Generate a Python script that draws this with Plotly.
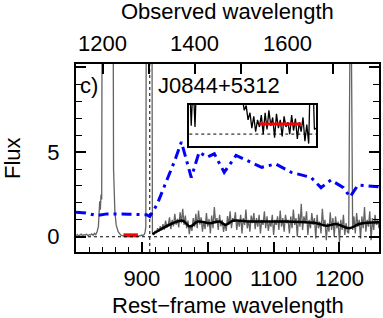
import plotly.graph_objects as go

# ---------------- data ----------------
REDSHIFT = 0.428
rest_range = [800, 1260]

# gray observed spectrum: low-resolution part (rest-frame Angstrom, flux)
spec_left_wave = [800, 802, 804, 806, 808, 810, 812, 814, 816, 818, 820, 822, 824, 826, 828, 830,
                  832, 834, 835, 836, 837, 838, 839, 840, 856, 857, 859, 861, 864, 866, 868, 870,
                  872, 874, 876, 878, 880, 882, 884, 886, 888, 890, 892, 894, 896, 898, 900, 902,
                  904, 905, 906, 907, 915]
spec_left_flux = [0.08, 0.13, 0.05, 0.11, 0.15, 0.06, 0.12, 0.09, 0.16, 0.07, 0.12, 0.10, 0.17, 0.08, 0.20, 0.12,
                  0.30, 0.60, 1.30, 2.10, 1.60, 2.50, 2.20, 20.0, 20.0, 4.0, 1.5, 0.7, 0.30, 0.18, 0.10, 0.07,
                  0.05, 0.09, 0.04, 0.08, 0.03, 0.07, 0.05, 0.09, 0.04, 0.06, 0.08, 0.03, 0.07, 0.05, 0.10, 0.08,
                  0.15, 0.30, 0.60, 20.0, 20.0]

# gray spectrum: noisy part, sampled every 2 A from 916 A
noisy_start = 916
noisy_step = 2
noisy_flux = [
    0.25, 0.10, 0.35, 0.22, 0.50, 0.30, 0.62, 0.38, 0.75, 0.42, 0.95, 0.55, 0.70, 1.15, 0.45, 1.00, 0.62, 1.35, 0.72, 1.05, 0.55, 1.45,
    0.80, 1.65, 0.70, 1.25, 0.50, 0.95, 0.15, 0.70, 0.35, 1.10, 0.60, 1.35, 0.50, 1.55, 0.72, 1.15, 0.30, 0.92, 0.45, 1.40, 0.60,
    1.05, 0.20, 1.25, 0.50, 1.75, 0.80, 1.10, 0.40, 1.30, 0.62, 1.00, 0.28, 0.80, 0.35, 1.22, 0.70, 1.50, 0.50, 1.10, 0.90,
    1.45, 0.40, 1.00, 0.60, 1.30, 0.20, 1.10, 0.70, 1.60, 0.50, 1.00, 0.30, 1.25, 0.80, 1.40, 0.45, 1.10, 0.60, 1.30, 0.20,
    1.00, 0.70, 1.50, 0.50, 1.20, 0.35, 0.90, 0.60, 1.30, 0.10, 1.00, 0.70, 1.20, 0.40, 1.55, 0.60, 1.10, 0.30, 1.30, 0.80,
    1.00, 0.20, 1.20, 0.50, 1.60, 0.70, 1.10, 0.00, 1.35, 0.60, 1.95, 0.40, 1.20, 0.80, 1.50, 0.10, 1.00, 0.50, 1.40, 0.70,
    1.10, -0.10, 1.30, 0.50, 0.90, 0.20, 1.65, 0.60, 1.00, -0.20, 0.80, 0.30, 1.45, 0.40, 1.10, 0.00, 1.20, 0.50, 0.90, -0.30,
    1.00, 0.40, 1.30, 0.10, 0.80, 0.30,
    0.20, 12.0, 12.0, 0.40,
    1.20, 0.20, 1.40, 0.60, 1.00, -0.10, 1.20, 0.50, 1.75, 0.30, 1.00, 0.60, 1.50, -0.20, 1.10, 0.40, 1.30, 0.70, 1.00, 0.50,
]

# black smooth continuum fit
cont_wave = [916, 927, 947, 962, 973, 985, 1003, 1018, 1027, 1038, 1064, 1079, 1114, 1165, 1180, 1195, 1215, 1230, 1260]
cont_flux = [0.15, 0.40, 0.80, 0.95, 0.60, 0.90, 0.80, 0.90, 0.70, 0.95, 0.90, 0.90, 0.90, 0.80, 0.65, 0.75, 0.50, 0.75, 0.85]

# blue dash-dot template
blue_wave = [800, 815, 832, 847, 880, 907, 912, 923, 938, 950, 960, 975, 987, 999, 1010, 1025, 1043, 1066,
             1082, 1103, 1127, 1157, 1172, 1187, 1206, 1216, 1228, 1260]
blue_flux = [1.45, 1.40, 1.25, 1.35, 1.33, 1.30, 1.20, 1.90, 3.35, 4.50, 5.60, 3.50, 5.00, 4.70, 4.90, 3.80, 4.80, 4.40,
             4.10, 4.30, 3.80, 3.50, 2.90, 3.35, 2.90, 2.35, 3.05, 2.95]

# red segment (mean flux below Lyman limit)
red_wave = [872, 894]
red_flux = [0.084, 0.084]

# inset spectrum
inset_wave = [835, 836, 837, 838, 839, 840, 862, 863, 864, 865, 866, 867, 868, 869, 870, 871, 872, 873, 874, 875,
              876, 877, 878, 879, 880, 881, 882, 883, 884, 885, 886, 887, 888, 889, 890, 891, 892, 893, 894,
              895, 896, 897, 898, 899, 900, 901, 902]
inset_flux = [0.50, 0.07, 0.45, 0.06, 0.60, 1.00, 1.00, 0.30, 0.20, 0.24, 0.12, 0.18, 0.05, 0.15, 0.02, 0.12, 0.06, 0.16, 0.00, 0.18,
              0.04, 0.20, 0.07, 0.14, -0.03, 0.17, 0.05, 0.12, -0.02, 0.15, 0.06, 0.10, 0.00, 0.16, 0.03, 0.13, -0.04, 0.10, 0.02,
              0.14, -0.06, 0.08, -0.08, 0.60, 0.60, 0.04, 0.05]
inset_xrange = [835, 902]
inset_yrange = [-0.10, 0.245]

lyman_limit = 912
obs_ticks = [1200, 1300, 1400, 1500, 1600, 1700]
obs_ticktext = ['1200', '', '1400', '', '1600', '']
rest_ticks = [900, 1000, 1100, 1200]
flux_ticks = [0, 5, 10]
flux_ticktext = ['0', '5', '']

# ---------------- figure ----------------
FONT = 'Liberation Sans'
FS = 22
noisy_wave = [noisy_start + i * noisy_step for i in range(len(noisy_flux))]
spec_wave = spec_left_wave + noisy_wave
spec_flux = spec_left_flux + noisy_flux

fig = go.Figure()
fig.add_trace(go.Scatter(x=spec_wave, y=spec_flux, mode='lines',
                         line=dict(color='#636363', width=1.3), hoverinfo='skip'))
fig.add_trace(go.Scatter(x=cont_wave, y=cont_flux, mode='lines', line_shape='spline',
                         line=dict(color='black', width=2.5)))
fig.add_trace(go.Scatter(x=blue_wave, y=blue_flux, mode='lines',
                         line=dict(color='#0000ff', width=3, dash='10px,5px,3px,5px')))
fig.add_trace(go.Scatter(x=red_wave, y=red_flux, mode='lines', line=dict(color='#ff0000', width=4)))
fig.add_trace(go.Scatter(x=[rest_range[0] * (1 + REDSHIFT)], y=[0], xaxis='x2', yaxis='y',
                         mode='markers', marker=dict(opacity=0), hoverinfo='skip'))
fig.add_trace(go.Scatter(x=inset_wave, y=inset_flux, xaxis='x3', yaxis='y3', mode='lines',
                         line=dict(color='black', width=1.3)))
fig.add_trace(go.Scatter(x=red_wave, y=red_flux, xaxis='x3', yaxis='y3', mode='lines',
                         line=dict(color='#ff0000', width=3)))

tickfont = dict(family=FONT, size=FS, color='black')

annotations = [
    dict(text='Observed wavelength', xref='paper', yref='paper', x=0.5, y=1, yshift=53,
         showarrow=False, font=tickfont, yanchor='middle'),
    dict(text='Rest\u2212frame wavelength', xref='paper', yref='paper', x=0.5, y=0, yshift=-53,
         showarrow=False, font=tickfont, yanchor='middle'),
    dict(text='Flux', xref='paper', yref='paper', x=0, xshift=-64, y=0.5, textangle=-90,
         showarrow=False, font=tickfont, xanchor='center'),
    dict(text='c)', xref='paper', yref='paper', x=0, xshift=2, y=1, yshift=-21,
         xanchor='left', yanchor='middle', showarrow=False, font=tickfont),
    dict(text='J0844+5312', xref='paper', yref='paper', x=(157 - 76) / 305, y=1, yshift=-21,
         xanchor='left', yanchor='middle', showarrow=False, font=tickfont),
]
for v, t in zip(obs_ticks, obs_ticktext):
    if t:
        annotations.append(dict(text=t, xref='x2', yref='paper', x=v, y=1, yshift=21,
                                xanchor='center', yanchor='middle', showarrow=False, font=tickfont))

fig.update_layout(
    width=383, height=318,
    margin=dict(l=76, r=2, t=64, b=66),
    paper_bgcolor='white', plot_bgcolor='white',
    showlegend=False,
    xaxis=dict(domain=[0, 1], anchor='y', range=rest_range, showgrid=False, zeroline=False,
               showline=True, linecolor='black', linewidth=2, mirror=True,
               ticks='inside', tickvals=rest_ticks, ticklen=10, tickwidth=1.5, tickcolor='black',
               minor=dict(ticks='inside', tick0=800, dtick=20, ticklen=5, tickwidth=1.2, tickcolor='black'),
               tickfont=tickfont, ticklabelstandoff=6),
    xaxis2=dict(overlaying='x', side='top', anchor='y',
                range=[rest_range[0] * (1 + REDSHIFT), rest_range[1] * (1 + REDSHIFT)],
                showgrid=False, zeroline=False, showline=False, showticklabels=False,
                ticks='inside', tickvals=obs_ticks, ticklen=10,
                tickwidth=1.5, tickcolor='black'),
    yaxis=dict(domain=[0, 1], anchor='x', range=[-0.9, 10.2], showgrid=False, zeroline=False,
               showline=True, linecolor='black', linewidth=2, mirror='ticks',
               ticks='inside', tickvals=flux_ticks, ticktext=flux_ticktext, ticklen=10, tickwidth=1.5,
               tickcolor='black',
               minor=dict(ticks='inside', tick0=0, dtick=1, ticklen=6, tickwidth=1.2, tickcolor='black'),
               tickfont=tickfont, ticklabelstandoff=10),
    xaxis3=dict(domain=[0.374, 0.793], anchor='y3', range=inset_xrange, showgrid=False, zeroline=False,
                showline=True, linecolor='black', linewidth=1.5, mirror=True, showticklabels=False, ticks=''),
    yaxis3=dict(domain=[0.564, 0.782], anchor='x3', range=inset_yrange, showgrid=False, zeroline=False,
                showline=True, linecolor='black', linewidth=1.5, mirror=True, showticklabels=False, ticks=''),
    shapes=[
        dict(type='line', xref='paper', x0=0, x1=1, yref='y', y0=0, y1=0,
             line=dict(color='black', width=1, dash='dot'), layer='above'),
        dict(type='line', xref='x', x0=lyman_limit, x1=lyman_limit, yref='paper', y0=0, y1=1,
             line=dict(color='black', width=1, dash='dot'), layer='above'),
        dict(type='line', xref='x3 domain', x0=0, x1=1, yref='y3', y0=0, y1=0,
             line=dict(color='black', width=1, dash='dot'), layer='above'),
    ],
    annotations=annotations,
)

fig.write_html('out.html', config={'displayModeBar': False},
               post_script="document.body.style.margin='0';document.body.style.padding='0';")
